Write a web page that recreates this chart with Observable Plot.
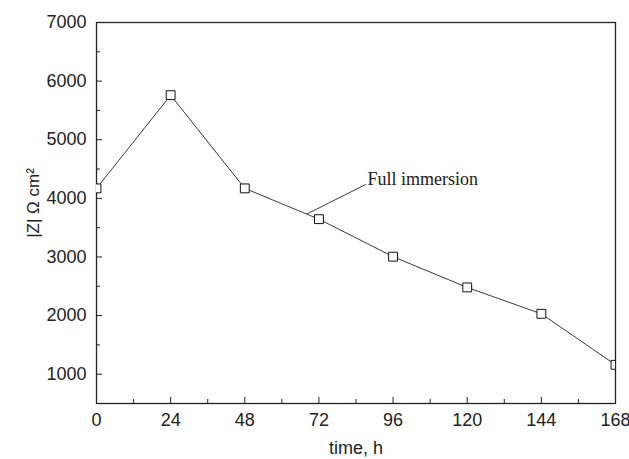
<!DOCTYPE html>
<html><head><meta charset="utf-8">
<script src="https://cdn.jsdelivr.net/npm/d3@7"></script>
<script src="https://cdn.jsdelivr.net/npm/@observablehq/plot@0.6"></script>
<style>body{margin:0;background:#fff}</style>
</head><body><div id="chart"></div>
<script>
const times = [0, 24, 48, 72, 96, 120, 144, 168];
const impedance = [4170, 5760, 4170, 3645, 3005, 2480, 2030, 1160];
const xTicks = [0, 24, 48, 72, 96, 120, 144, 168];
const xMinorTicks = [12, 36, 60, 84, 108, 132, 156];
const yTicks = [1000, 2000, 3000, 4000, 5000, 6000, 7000];
const yMinorTicks = [1500, 2500, 3500, 4500, 5500, 6500];
const annotationText = ["Full immersion"];
const annotationX = [87.7];
const annotationY = [4320];
const leaderX = [68.2, 87.1];
const leaderY = [3735, 4236];
const xLabel = "time, h";
const yLabel = "|Z| Ω cm²";

const data = times.map((t, i) => ({t, z: impedance[i]}));
const leader = leaderX.map((x, i) => ({x, y: leaderY[i]}));
const annot = annotationText.map((s, i) => ({s, x: annotationX[i], y: annotationY[i]}));

const ink = "#222";
const fmt = d3.format("d");
const chart = Plot.plot({
  width: 629, height: 459,
  marginLeft: 96, marginRight: 14, marginTop: 22, marginBottom: 56,
  style: {fontFamily: "Liberation Sans, Arial, sans-serif", fontSize: "18px", color: ink, background: "#fff"},
  x: {domain: [0, 168]},
  y: {domain: [500, 7000]},
  marks: [
    Plot.axisX({ticks: xTicks, tickSize: -6, tickFormat: () => "", label: null, stroke: ink}),
    Plot.axisX({ticks: xMinorTicks, tickSize: -4, tickFormat: () => "", label: null, stroke: ink}),
    Plot.axisY({ticks: yTicks, tickSize: -6, tickFormat: () => "", label: null, stroke: ink}),
    Plot.axisY({ticks: yMinorTicks, tickSize: -4, tickFormat: () => "", label: null, stroke: ink}),
    Plot.axisX({ticks: xTicks, tickSize: 0, tickPadding: 10, tickFormat: fmt, fontSize: 18, label: null, fill: ink}),
    Plot.axisY({ticks: yTicks, tickSize: 0, tickPadding: 10, tickFormat: fmt, fontSize: 18, label: null, fill: ink}),
    Plot.frame({stroke: ink, strokeWidth: 1.3}),
    Plot.line(data, {x: "t", y: "z", stroke: "#3a3a3a", strokeWidth: 1}),
    Plot.dot(data, {x: "t", y: "z", symbol: "square", r: 5, stroke: "#111", fill: "white", strokeWidth: 1, clip: true}),
    Plot.line(leader, {x: "x", y: "y", stroke: "#3a3a3a", strokeWidth: 1}),
    Plot.text(annot, {x: "x", y: "y", text: "s", textAnchor: "start", fontFamily: "Liberation Serif, Times New Roman, serif", fontSize: 18, fill: ink}),
    Plot.text([xLabel], {frameAnchor: "bottom", dy: 45, textAnchor: "middle", lineAnchor: "middle", text: d => d, fontSize: 18, fill: ink}),
    Plot.text([yLabel], {frameAnchor: "left", dx: -63, dy: -10, textAnchor: "middle", lineAnchor: "middle", rotate: -90, text: d => d, fontSize: 17, fill: ink})
  ]
});
document.getElementById("chart").appendChild(chart);
</script>
</body></html>
